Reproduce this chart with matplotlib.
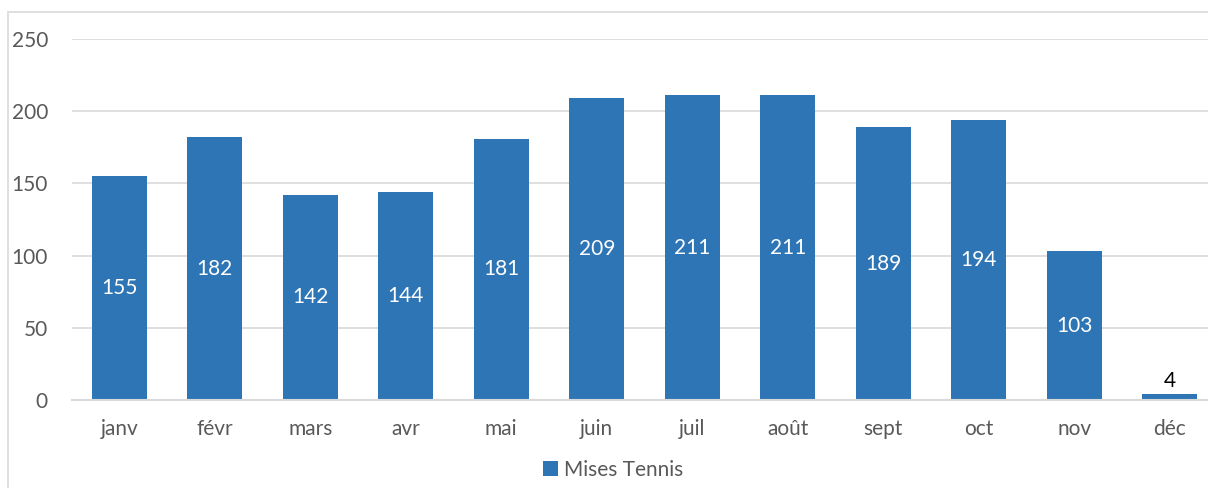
import matplotlib.pyplot as plt
from matplotlib.patches import Rectangle

months = ["janv", "févr", "mars", "avr", "mai", "juin", "juil", "août", "sept", "oct", "nov", "déc"]
mises = [155, 182, 142, 144, 181, 209, 211, 211, 189, 194, 103, 4]
yticks = [0, 50, 100, 150, 200, 250]

bar_color = "#2E75B6"
grid_color = "#D9D9D9"
text_color = "#595959"

plt.rcParams["font.family"] = ["Lato", "DejaVu Sans"]

fig = plt.figure(figsize=(12.08, 4.88), dpi=100)
W, H = 1208, 488

# chart area border (cut off at right and bottom like the screenshot)
fig.patches.append(Rectangle((8 / W, -0.1), 1.2, 1 - 12 / H + 0.1,
                             transform=fig.transFigure, fill=False,
                             edgecolor=grid_color, linewidth=1.2))

ax = fig.add_axes([71.5 / W, 88 / H, (1217.5 - 71.5) / W, 361 / H])
x = range(len(months))
bars = ax.bar(x, mises, width=0.58, color=bar_color, zorder=3)

ax.set_xlim(-0.5, len(months) - 0.5)
ax.set_ylim(0, 250)
ax.set_yticks(yticks)
ax.set_xticks(list(x))
ax.set_xticklabels(months)
ax.tick_params(axis="both", length=0, labelsize=15, colors=text_color)
ax.tick_params(axis="x", pad=14)
ax.tick_params(axis="y", pad=17)

ax.grid(axis="y", color=grid_color, linewidth=1.2, zorder=0)
for s in ["top", "right", "left"]:
    ax.spines[s].set_visible(False)
ax.spines["bottom"].set_color(grid_color)
ax.spines["bottom"].set_linewidth(1.5)
ax.spines["bottom"].set_zorder(4)

for i, v in enumerate(mises):
    if v > 20:
        ax.text(i, v / 2, str(v), ha="center", va="center", color="white", fontsize=15, zorder=5)
    else:
        ax.text(i, v + 2, str(v), ha="center", va="bottom", color="black", fontsize=15, zorder=5)

fig.legend([bars], ["Mises Tennis"], loc="center", bbox_to_anchor=(613 / W, 1 - 470 / H),
           frameon=False, fontsize=15, handlelength=0.7, handleheight=0.7,
           handletextpad=0.3, labelcolor=text_color)

fig.savefig("out.png", dpi=100)
